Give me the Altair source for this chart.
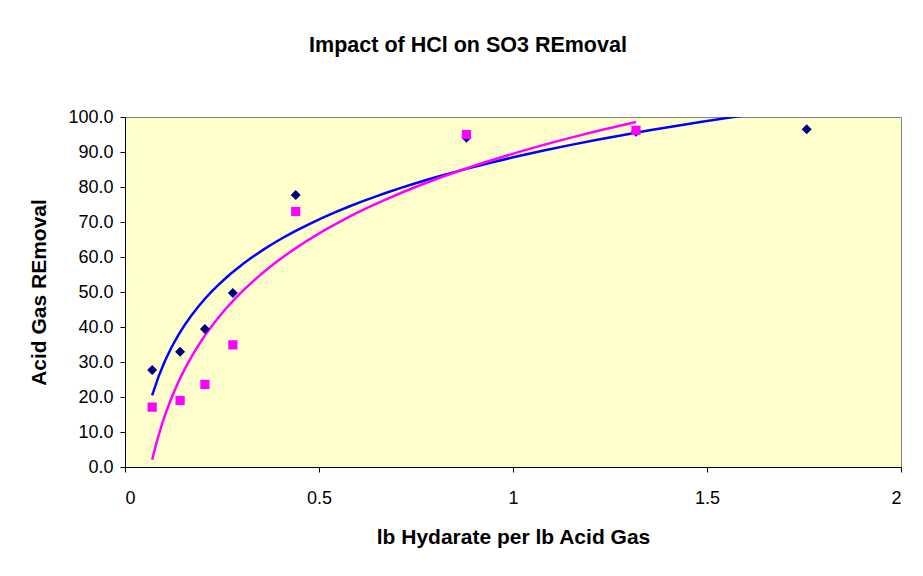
import altair as alt
import pandas as pd

# Data
x_hcl = [0.07, 0.142, 0.206, 0.278, 0.44, 0.88, 1.317, 1.757]
y_hcl = [27.7, 32.9, 39.4, 49.7, 77.7, 94.1, 95.8, 96.5]

x_so3 = [0.07, 0.142, 0.206, 0.278, 0.44, 0.88, 1.317]
y_so3 = [17.1, 19.0, 23.6, 34.9, 73.0, 95.0, 96.2]

x_ticks = [0, 0.5, 1, 1.5, 2]
y_ticks = [0, 10, 20, 30, 40, 50, 60, 70, 80, 90, 100]

df_hcl = pd.DataFrame({"x": x_hcl, "y": y_hcl})
df_so3 = pd.DataFrame({"x": x_so3, "y": y_so3})

FONT = "Liberation Sans"

xs = alt.Scale(domain=[0, 2], nice=False, zero=False)
ys = alt.Scale(domain=[0, 100], nice=False)

common = dict(labelFont=FONT, titleFont=FONT, labelFontSize=18, titleFontSize=21,
              titleFontWeight="bold", labelColor="black", titleColor="black",
              domainColor="black", tickColor="black", grid=False, tickSize=5)

xenc = alt.X("x:Q", scale=xs, axis=alt.Axis(
    values=x_ticks, title="lb Hydarate per lb Acid Gas",
    labelPadding=17, titlePadding=19, format="~g", **common))
yenc = alt.Y("y:Q", scale=ys, axis=alt.Axis(
    values=y_ticks, title="Acid Gas REmoval", format=".1f",
    labelPadding=7, titlePadding=18, **common))

pts_hcl = alt.Chart(df_hcl).mark_point(
    shape="diamond", filled=True, color="#000080", size=100, opacity=1
).encode(x=xenc, y=yenc)

pts_so3 = alt.Chart(df_so3).mark_point(
    shape="square", filled=True, color="#FF00FF", size=85, opacity=1
).encode(x=xenc, y=yenc)

fit_hcl = alt.Chart(df_hcl).transform_regression(
    "x", "y", method="log"
).mark_line(color="#0000FF", strokeWidth=2.5, clip=True).encode(x=xenc, y=yenc)

fit_so3 = alt.Chart(df_so3).transform_regression(
    "x", "y", method="log"
).mark_line(color="#FF00FF", strokeWidth=2.5, clip=True).encode(x=xenc, y=yenc)

chart = alt.layer(fit_hcl, fit_so3, pts_hcl, pts_so3).properties(
    width=776, height=350,
    background="white",
    title=alt.TitleParams("Impact of HCl on SO3 REmoval", fontSize=21.5,
                          font=FONT, fontWeight="bold", color="black",
                          dx=-45, offset=52),
    padding={"left": 20, "top": 26, "right": 5, "bottom": 5},
).configure_view(
    fill="#FFFFCC", stroke="#808080", strokeWidth=1
)

chart.save("out.html", embed_options={"renderer": "svg", "actions": False})
